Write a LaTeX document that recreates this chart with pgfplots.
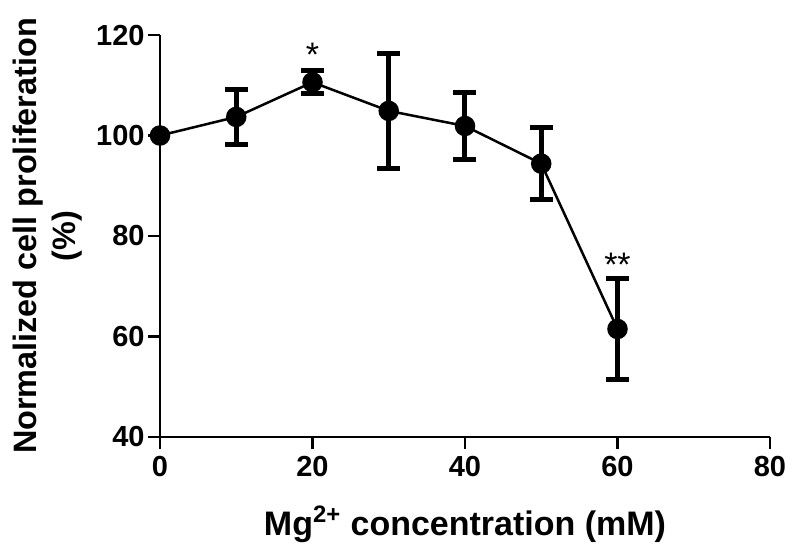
\documentclass[border=0pt]{standalone}
\usepackage{fontspec}
\setmainfont{Liberation Sans}
\usepackage{pgfplots}
\usepackage{pgfplotstable}
\pgfplotsset{compat=1.18}

% mean and SD
\pgfplotstableread{
x   y     err
0   100   0
10  103.7 5.5
20  110.6 2.3
30  104.9 11.4
40  101.9 6.7
50  94.4  7.2
60  61.5  10.0
}\prolifdata

\begin{document}
\begin{tikzpicture}
\useasboundingbox (-80pt,-61pt) rectangle (320pt,218.5pt);
\begin{axis}[
    at={(0,0)}, anchor=south west,
    scale only axis,
    width=305pt, height=201pt,
    xmin=0, xmax=80, ymin=40, ymax=120,
    xtick={0,20,...,80},
    ytick={40,60,...,120},
    axis lines=left,
    axis line style={-, line width=1.25pt},
    tick align=outside,
    major tick length=6pt,
    tick style={line width=1.25pt, black},
    /pgf/number format/assume math mode=true,
    ticklabel style={font=\fontsize{14.5}{16}\selectfont\bfseries},
    yticklabel style={inner sep=1.5pt},
    xlabel={Mg\textsuperscript{2+} concentration (mM)},
    xlabel style={at={(axis description cs:0.5,0)}, anchor=base, yshift=-49pt,
        font=\fontsize{17}{19.5}\selectfont\bfseries},
    ylabel={Normalized cell proliferation\\(\%)},
    ylabel style={at={(axis description cs:0,0.5)}, anchor=center, yshift=56pt,
        align=center, font=\fontsize{16.2}{19.5}\selectfont\bfseries},
    clip=false,
]
% error bars (no bar at the 0 mM reference)
\addplot[draw=none, no marks,
    error bars/.cd, y dir=both, y explicit,
    error bar style={line width=2.5pt, black},
    error mark options={rotate=90, mark size=5.75pt, line width=2.5pt, black}]
    table[x=x, y=y, y error=err, skip coords between index={0}{1}] {\prolifdata};
% mean line with markers
\addplot[black, line width=1.25pt, mark=*, mark size=4.5pt]
    table[x=x, y=y] {\prolifdata};
% significance
\node[anchor=north, inner sep=0pt, font=\fontsize{17}{19}\selectfont] at (axis cs:20,118.5) {*};
\node[anchor=north, inner sep=0pt, font=\fontsize{17}{19}\selectfont] at (axis cs:60,76.7) {**};
\end{axis}
\end{tikzpicture}
\end{document}
